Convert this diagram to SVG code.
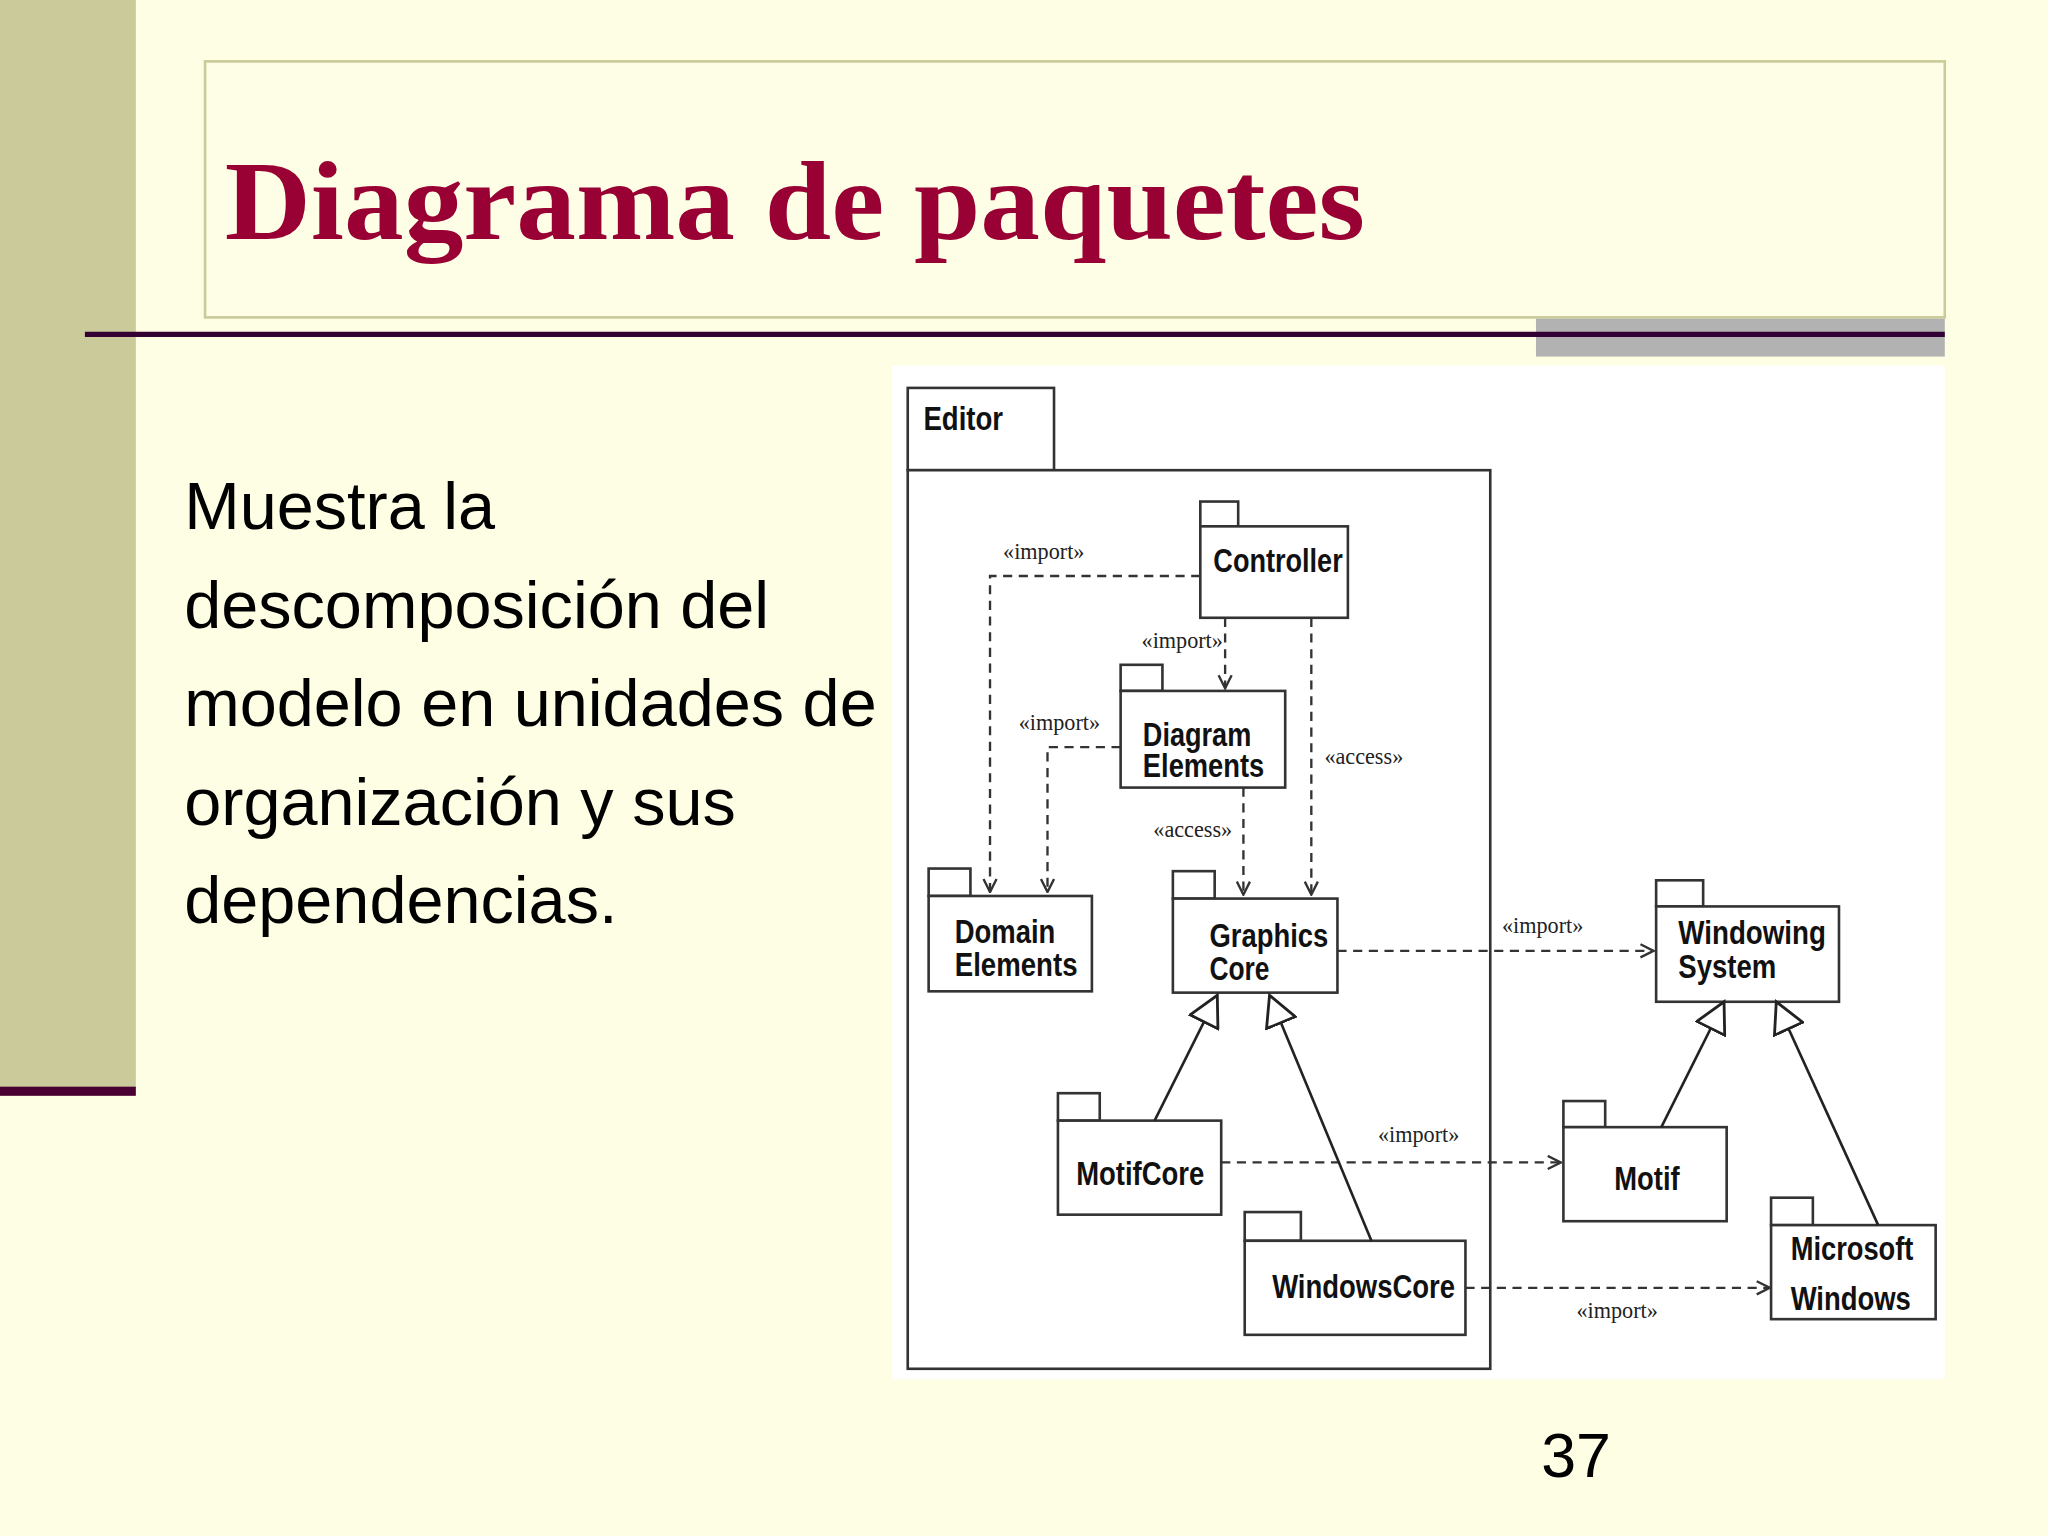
<svg xmlns="http://www.w3.org/2000/svg" width="2048" height="1536" viewBox="0 0 2048 1536">
<style>
.pk{fill:#fff;stroke:#333;stroke-width:2}
.nm{font-family:"Liberation Sans",Arial,sans-serif;font-weight:bold;font-size:25px;fill:#111}
.st{font-family:"Liberation Serif",serif;font-size:17px;fill:#222}
.dep{fill:none;stroke:#333;stroke-width:1.8;stroke-dasharray:7,5}
.gen{fill:none;stroke:#222;stroke-width:2}
.body{font-family:"Liberation Sans",Arial,sans-serif;font-size:51px;fill:#000}
</style>
<defs>
<marker id="open" viewBox="0 0 12 12" refX="11" refY="6" markerWidth="12" markerHeight="12" markerUnits="userSpaceOnUse" orient="auto"><path d="M1,1 L11,6 L1,11" fill="none" stroke="#333" stroke-width="1.8"/></marker>
<marker id="tri" viewBox="0 0 24 24" refX="22" refY="12" markerWidth="26" markerHeight="26" markerUnits="userSpaceOnUse" orient="auto"><path d="M1,1 L22,12 L1,23 Z" fill="#fff" stroke="#222" stroke-width="2"/></marker>
</defs>
<g transform="scale(1.3061)">
<rect width="1568" height="1176" fill="#FEFEE4"/>
<rect x="0" y="0" width="104" height="833" fill="#CACA9A"/>
<rect x="0" y="832" width="104" height="7" fill="#4B0033"/>
<rect x="157" y="47" width="1332" height="196" fill="#FEFEE6" stroke="#CACA9A" stroke-width="2"/>
<text x="172" y="183" font-family="Liberation Serif,serif" font-weight="bold" font-size="86" fill="#990033" textLength="873" lengthAdjust="spacingAndGlyphs">Diagrama de paquetes</text>
<rect x="1176" y="244" width="313" height="29" fill="#B2B2B2"/>
<rect x="65" y="254" width="1424" height="4" fill="#330033"/>
<g id="bodytext">
<text class="body" x="141" y="405">Muestra la</text>
<text class="body" x="141" y="481">descomposición del</text>
<text class="body" x="141" y="556">modelo en unidades de</text>
<text class="body" x="141" y="632">organización y sus</text>
<text class="body" x="141" y="707">dependencias.</text>
</g>
<text x="1180" y="1131" font-family="Liberation Sans,sans-serif" font-size="48" fill="#000">37</text>
<rect x="683" y="280" width="806" height="776" fill="#fff"/>
<g id="editor">
<rect class="pk" x="695" y="297" width="112" height="63"/>
<rect class="pk" x="695" y="360" width="446" height="688" fill="none"/>
<text class="nm" x="707" y="329" textLength="61" lengthAdjust="spacingAndGlyphs">Editor</text>
</g>
<g id="controller"><rect class="pk" x="919" y="384" width="29" height="19"/><rect class="pk" x="919" y="403" width="113" height="70"/><text class="nm" x="929" y="438" textLength="99" lengthAdjust="spacingAndGlyphs">Controller</text></g>
<g id="diagramElements"><rect class="pk" x="858" y="509" width="32" height="20"/><rect class="pk" x="858" y="529" width="126" height="74"/><text class="nm" x="875" y="571" textLength="83" lengthAdjust="spacingAndGlyphs">Diagram</text><text class="nm" x="875" y="595" textLength="93" lengthAdjust="spacingAndGlyphs">Elements</text></g>
<g id="domainElements"><rect class="pk" x="711" y="665" width="32" height="21"/><rect class="pk" x="711" y="686" width="125" height="73"/><text class="nm" x="731" y="722" textLength="77" lengthAdjust="spacingAndGlyphs">Domain</text><text class="nm" x="731" y="747" textLength="94" lengthAdjust="spacingAndGlyphs">Elements</text></g>
<g id="graphicsCore"><rect class="pk" x="898" y="667" width="32" height="21"/><rect class="pk" x="898" y="688" width="126" height="72"/><text class="nm" x="926" y="725" textLength="91" lengthAdjust="spacingAndGlyphs">Graphics</text><text class="nm" x="926" y="750" textLength="46" lengthAdjust="spacingAndGlyphs">Core</text></g>
<g id="windowingSystem"><rect class="pk" x="1268" y="674" width="36" height="20"/><rect class="pk" x="1268" y="694" width="140" height="73"/><text class="nm" x="1285" y="723" textLength="113" lengthAdjust="spacingAndGlyphs">Windowing</text><text class="nm" x="1285" y="749" textLength="75" lengthAdjust="spacingAndGlyphs">System</text></g>
<g id="motifCore"><rect class="pk" x="810" y="837" width="32" height="21"/><rect class="pk" x="810" y="858" width="125" height="72"/><text class="nm" x="824" y="907" textLength="98" lengthAdjust="spacingAndGlyphs">MotifCore</text></g>
<g id="motif"><rect class="pk" x="1197" y="843" width="32" height="20"/><rect class="pk" x="1197" y="863" width="125" height="72"/><text class="nm" x="1236" y="911" textLength="50" lengthAdjust="spacingAndGlyphs">Motif</text></g>
<g id="windowsCore"><rect class="pk" x="953" y="928" width="43" height="22"/><rect class="pk" x="953" y="950" width="169" height="72"/><text class="nm" x="974" y="994" textLength="140" lengthAdjust="spacingAndGlyphs">WindowsCore</text></g>
<g id="microsoftWindows"><rect class="pk" x="1356" y="917" width="32" height="21"/><rect class="pk" x="1356" y="938" width="126" height="72"/><text class="nm" x="1371" y="965" textLength="94" lengthAdjust="spacingAndGlyphs">Microsoft</text><text class="nm" x="1371" y="1003" textLength="92" lengthAdjust="spacingAndGlyphs">Windows</text></g>
<g id="connectors">
<path class="dep" d="M919,441 H758 V683" marker-end="url(#open)"/>
<path class="dep" d="M938,473 V527" marker-end="url(#open)"/>
<path class="dep" d="M858,572 H802 V683" marker-end="url(#open)"/>
<path class="dep" d="M952,603 V685" marker-end="url(#open)"/>
<path class="dep" d="M1004,473 V685" marker-end="url(#open)"/>
<path class="dep" d="M1024,728 H1266" marker-end="url(#open)"/>
<path class="dep" d="M935,890 H1195" marker-end="url(#open)"/>
<path class="dep" d="M1122,986 H1355" marker-end="url(#open)"/>
<path class="gen" d="M884,858 L932,762" marker-end="url(#tri)"/>
<path class="gen" d="M1050,950 L972,762" marker-end="url(#tri)"/>
<path class="gen" d="M1272,863 L1320,767" marker-end="url(#tri)"/>
<path class="gen" d="M1438,938 L1360,767" marker-end="url(#tri)"/>
<text class="st" x="768" y="428">«import»</text>
<text class="st" x="874" y="496">«import»</text>
<text class="st" x="780" y="559">«import»</text>
<text class="st" x="883" y="641">«access»</text>
<text class="st" x="1014" y="585">«access»</text>
<text class="st" x="1150" y="714">«import»</text>
<text class="st" x="1055" y="874">«import»</text>
<text class="st" x="1207" y="1009">«import»</text>
</g>
</g>
</svg>
